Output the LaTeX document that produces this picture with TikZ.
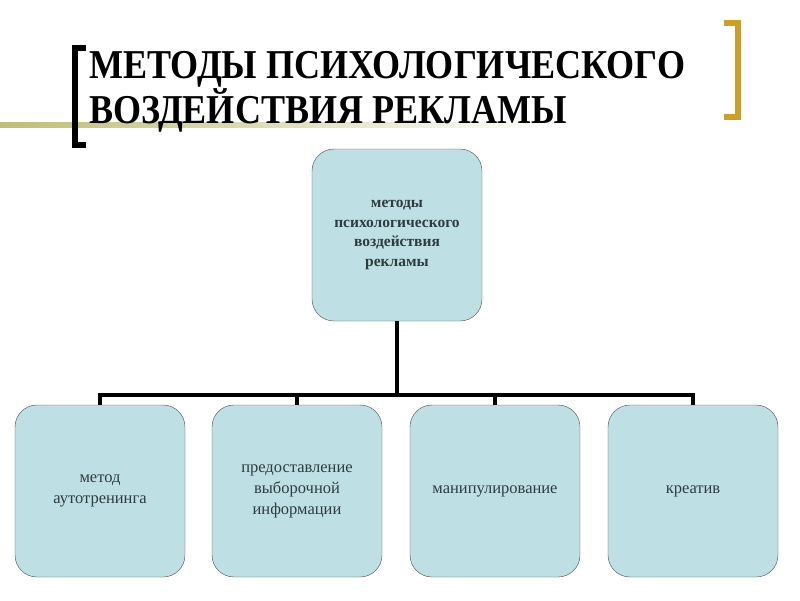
\documentclass[tikz,border=0pt]{standalone}
\usepackage{fontspec}
\setmainfont{Liberation Serif}
\usetikzlibrary{positioning}
\definecolor{boxfill}{RGB}{190,224,228}
\definecolor{boxtext}{RGB}{45,60,65}
\definecolor{gold}{RGB}{204,160,40}
\definecolor{olive}{RGB}{190,190,120}

\begin{document}
\begin{tikzpicture}
    [
        x=1pt, y=-1pt,
        box/.style={draw=black!70, fill=boxfill, rounded corners=22pt, minimum width=170pt,
                    minimum height=172pt, align=center, text=boxtext,
                    font=\fontsize{16.5}{21}\selectfont},
        link/.style={line width=4pt}
    ]
    \useasboundingbox (0,0) rectangle (800,600);
    % title decoration
    \shade[left color=olive, right color=white] (0,122) rectangle (560,127);
    \draw[line width=6pt] (86,48) -- (75,48) -- (75,145) -- (86,145);
    \draw[gold, line width=6pt] (724,23) -- (738,23) -- (738,117) -- (724,117);
    \node[anchor=west, font=\bfseries\fontsize{41}{36}\selectfont, align=left, xscale=0.88] (title) at (86,92)
        {МЕТОДЫ ПСИХОЛОГИЧЕСКОГО\\ВОЗДЕЙСТВИЯ РЕКЛАМЫ};
    % tree
    \node[box, font=\bfseries\fontsize{15.5}{19.5}\selectfont] (root) at (397,235)
        {методы\\психологического\\воздействия\\рекламы};
    \node[box] (auto) at (100,491) {метод\\аутотренинга};
    \node[box] (info) at (297,491) {предоставление\\выборочной\\информации};
    \node[box] (manip) at (495,491) {манипулирование};
    \node[box] (creat) at (693,491) {креатив};
    \coordinate (hub) at (397,395);
    \draw[link] (root.south) -- (hub);
    \draw[link] (auto.north) -- ++(0,-10) -| (creat.north);
    \draw[link] (info.north) -- ++(0,-10);
    \draw[link] (manip.north) -- ++(0,-10);
\end{tikzpicture}
\end{document}
